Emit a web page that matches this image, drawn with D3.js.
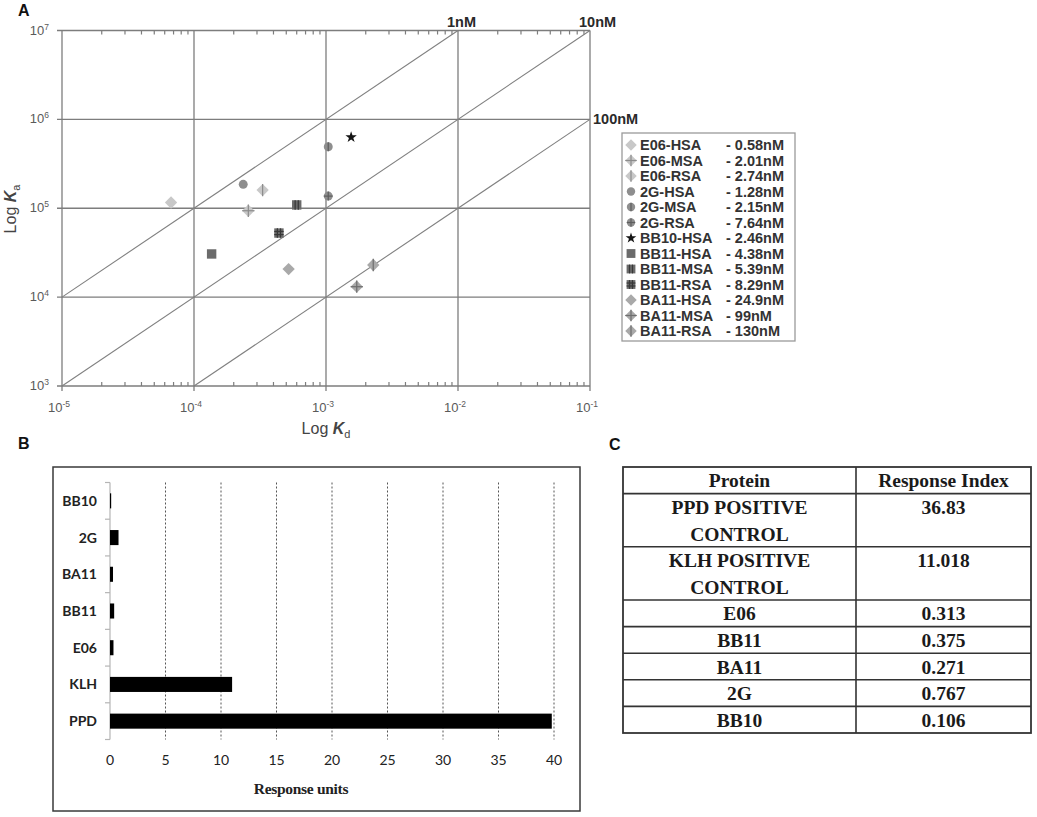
<!DOCTYPE html>
<html>
<head>
<meta charset="utf-8">
<script src="https://cdnjs.cloudflare.com/ajax/libs/d3/7.8.5/d3.min.js"></script>
<style>
  body { margin: 0; background: #fff; }
  svg { display: block; }
</style>
</head>
<body>
<svg id="fig" width="1037" height="817"></svg>
<script>
// ---- panel A: off-rate (kd) against on-rate (ka)
var seriesNames = ['E06-HSA', 'E06-MSA', 'E06-RSA', '2G-HSA', '2G-MSA', '2G-RSA', 'BB10-HSA',
                   'BB11-HSA', 'BB11-MSA', 'BB11-RSA', 'BA11-HSA', 'BA11-MSA', 'BA11-RSA'];
var kdValues = [6.7e-5, 2.58e-4, 3.31e-4, 2.36e-4, 1.04e-3, 1.04e-3, 1.55e-3,
                1.36e-4, 6.0e-4, 4.4e-4, 5.21e-4, 1.71e-3, 2.28e-3];
var kaValues = [1.16e5, 9.38e4, 1.6e5, 1.86e5, 4.92e5, 1.37e5, 6.3e5,
                3.06e4, 1.09e5, 5.26e4, 2.07e4, 1.31e4, 2.3e4];
var legendKD = ['0.58nM', '2.01nM', '2.74nM', '1.28nM', '2.15nM', '7.64nM', '2.46nM',
                '4.38nM', '5.39nM', '8.29nM', '24.9nM', '99nM', '130nM'];
var affinityLines = [1e-9, 1e-8, 1e-7];
var affinityLabels = ['1nM', '10nM', '100nM'];

// ---- panel B: response units
var barCategories = ['BB10', '2G', 'BA11', 'BB11', 'E06', 'KLH', 'PPD'];
var barValues = [0.106, 0.767, 0.271, 0.375, 0.313, 11.0, 39.8];
var barTicks = [0, 5, 10, 15, 20, 25, 30, 35, 40];

// ---- panel C: response index table
var tableHeader = ['Protein', 'Response Index'];
var tableProteins = ['PPD POSITIVE\nCONTROL', 'KLH POSITIVE\nCONTROL', 'E06', 'BB11', 'BA11', '2G', 'BB10'];
var tableIndex = ['36.83', '11.018', '0.313', '0.375', '0.271', '0.767', '0.106'];

var svg = d3.select('#fig');
var sans = '"Liberation Sans", Arial, sans-serif';
var serif = '"Liberation Serif", "Times New Roman", serif';
var calib = 'Lato, "Open Sans", sans-serif';

// panel letters
[['A', 18, 16], ['B', 18, 449], ['C', 609, 450]].forEach(function(p) {
    svg.append('text').attr('x', p[1]).attr('y', p[2]).text(p[0])
        .style('font-family', sans).style('font-weight', 'bold')
        .style('font-size', '16px').style('fill', '#111');
});

// =================== A ===================
var x = d3.scaleLog().domain([1e-5, 1e-1]).range([62, 590]);
var y = d3.scaleLog().domain([1e3, 1e7]).range([386, 30.5]);
var gridCol = '#7d7d7d';
var gA = svg.append('g');

var majorX = x.ticks().filter(function(d) { return Math.abs(Math.log10(d) % 1) < 1e-9; });
var majorY = y.ticks().filter(function(d) { return Math.abs(Math.log10(d) % 1) < 1e-9; });
var minorX = x.ticks().filter(function(d) { return majorX.indexOf(d) < 0; });

gA.selectAll('.gx').data(majorX).enter().append('line')
    .attr('x1', function(d) { return x(d); }).attr('x2', function(d) { return x(d); })
    .attr('y1', y.range()[0] + 5).attr('y2', y.range()[1])
    .attr('stroke', gridCol).attr('stroke-width', 1.3);
gA.selectAll('.gy').data(majorY).enter().append('line')
    .attr('x1', x.range()[0] - 5).attr('x2', x.range()[1])
    .attr('y1', function(d) { return y(d); }).attr('y2', function(d) { return y(d); })
    .attr('stroke', gridCol).attr('stroke-width', 1.3);

// minor ticks pointing inward on top and bottom
gA.selectAll('.mb').data(minorX).enter().append('line')
    .attr('x1', function(d) { return x(d); }).attr('x2', function(d) { return x(d); })
    .attr('y1', y.range()[0]).attr('y2', y.range()[0] - 4)
    .attr('stroke', gridCol).attr('stroke-width', 1.2);
gA.selectAll('.mt').data(minorX).enter().append('line')
    .attr('x1', function(d) { return x(d); }).attr('x2', function(d) { return x(d); })
    .attr('y1', y.range()[1]).attr('y2', y.range()[1] + 4)
    .attr('stroke', gridCol).attr('stroke-width', 1.2);

// affinity diagonals KD = kd / ka
var lineEnds = affinityLines.map(function(kd) {
    var x0 = Math.max(x.domain()[0], kd * y.domain()[0]);
    var x1 = Math.min(x.domain()[1], kd * y.domain()[1]);
    return [[x0, x0 / kd], [x1, x1 / kd]];
});
gA.selectAll('.diag').data(lineEnds).enter().append('line')
    .attr('x1', function(d) { return x(d[0][0]); }).attr('y1', function(d) { return y(d[0][1]); })
    .attr('x2', function(d) { return x(d[1][0]); }).attr('y2', function(d) { return y(d[1][1]); })
    .attr('stroke', '#808080').attr('stroke-width', 1.1);
gA.selectAll('.dlab').data(lineEnds).enter().append('text')
    .attr('x', function(d) { return d[1][1] >= y.domain()[1] ? x(d[1][0]) - 11 : x(d[1][0]) + 3; })
    .attr('y', function(d) { return d[1][1] >= y.domain()[1] ? y(d[1][1]) - 4 : y(d[1][1]) + 5; })
    .text(function(d, i) { return affinityLabels[i]; })
    .style('font-family', sans).style('font-weight', 'bold').style('font-size', '14.5px').style('fill', '#2a2a2a');

// tick labels as 10^n
function powLabel(sel, d) {
    sel.append('tspan').text('10');
    sel.append('tspan').text(String(Math.round(Math.log10(d))))
        .attr('dy', -5).style('font-size', '8.5px');
}
gA.selectAll('.tx').data(majorX).enter().append('text')
    .attr('x', function(d) { return x(d) - 3; }).attr('y', 412)
    .attr('text-anchor', 'middle')
    .style('font-family', sans).style('font-size', '13px').style('fill', '#5a5a5a')
    .each(function(d) { powLabel(d3.select(this), d); });
gA.selectAll('.ty').data(majorY).enter().append('text')
    .attr('x', 49).attr('y', function(d) { return y(d) + 4; })
    .attr('text-anchor', 'end')
    .style('font-family', sans).style('font-size', '13px').style('fill', '#5a5a5a')
    .each(function(d) { powLabel(d3.select(this), d); });

// axis titles
var xt = gA.append('text').attr('x', 326).attr('y', 434).attr('text-anchor', 'middle')
    .style('font-family', sans).style('font-size', '16px').style('fill', '#444');
xt.append('tspan').text('Log ');
xt.append('tspan').text('K').style('font-style', 'italic').style('font-weight', 'bold');
xt.append('tspan').text('d').attr('dy', 4).style('font-size', '11px');
var yt = gA.append('text').attr('transform', 'translate(16,209) rotate(-90)').attr('text-anchor', 'middle')
    .style('font-family', sans).style('font-size', '16px').style('fill', '#444');
yt.append('tspan').text('Log ');
yt.append('tspan').text('K').style('font-style', 'italic').style('font-weight', 'bold');
yt.append('tspan').text('a').attr('dy', 4).style('font-size', '11px');

// marker styles by antibody and species
var markerStyle = {
    'E06':  { shape: 'diamond', fill: '#c8c8c8', line: '#8c8c8c' },
    '2G':   { shape: 'circle',  fill: '#8e8e8e', line: '#5e5e5e' },
    'BB10': { shape: 'star',    fill: '#151515', line: '#151515' },
    'BB11': { shape: 'square',  fill: '#6b6b6b', line: '#383838' },
    'BA11': { shape: 'diamond', fill: '#a9a9a9', line: '#6e6e6e' }
};
var markerPattern = {
    'E06-MSA': 'cross', 'E06-RSA': 'vline', '2G-MSA': 'vline', '2G-RSA': 'cross',
    'BB11-MSA': 'stripes', 'BB11-RSA': 'grid', 'BA11-MSA': 'cross', 'BA11-RSA': 'vline'
};

function drawMarker(g, name, cx, cy, k) {
    var st = markerStyle[name.split('-')[0]];
    var pat = markerPattern[name] || 'none';
    var m = g.append('g').attr('transform', 'translate(' + cx + ',' + cy + ')');
    var h;
    if (st.shape === 'diamond') {
        h = 5.5 * k;
        m.append('path').attr('d', 'M0,' + (-h) + 'L' + h + ',0L0,' + h + 'L' + (-h) + ',0Z')
            .attr('fill', st.fill);
    } else if (st.shape === 'circle') {
        h = 4 * k;
        m.append('circle').attr('r', h).attr('fill', st.fill);
    } else if (st.shape === 'square') {
        h = 4.2 * k;
        m.append('rect').attr('x', -h).attr('y', -h).attr('width', 2 * h).attr('height', 2 * h)
            .attr('fill', st.fill);
    } else {
        h = 4 * k;
        m.append('path').attr('d', d3.symbol(d3.symbolStar, 32 * k * k)()).attr('fill', st.fill);
    }
    var ln = function(x1, y1, x2, y2) {
        m.append('line').attr('x1', x1).attr('y1', y1).attr('x2', x2).attr('y2', y2)
            .attr('stroke', st.line).attr('stroke-width', 1.2);
    };
    if (pat === 'cross') { ln(-h, 0, h, 0); ln(0, -h, 0, h); }
    if (pat === 'vline') { ln(0, -h, 0, h); }
    if (pat === 'stripes') { ln(-h / 3, -h, -h / 3, h); ln(h / 3, -h, h / 3, h); }
    if (pat === 'grid') {
        ln(-h / 3, -h, -h / 3, h); ln(h / 3, -h, h / 3, h);
        ln(-h, -h / 3, h, -h / 3); ln(-h, h / 3, h, h / 3);
    }
}

var gPts = gA.append('g');
seriesNames.forEach(function(n, i) {
    drawMarker(gPts, n, x(kdValues[i]), y(kaValues[i]), 1.12);
});

// legend
var ly = d3.scaleLinear().domain([0, seriesNames.length - 1]).range([145, 331]);
var gL = svg.append('g');
gL.append('rect').attr('x', 622).attr('y', 133).attr('width', 173).attr('height', 208)
    .attr('fill', '#fff').attr('stroke', '#9a9a9a').attr('stroke-width', 1.3);
seriesNames.forEach(function(n, i) {
    drawMarker(gL, n, 631, ly(i), 1.05);
    gL.append('text').attr('x', 640).attr('y', ly(i) + 5).text(n)
        .style('font-family', sans).style('font-weight', 'bold').style('font-size', '14.5px').style('fill', '#333');
    gL.append('text').attr('x', 726).attr('y', ly(i) + 5).text('- ' + legendKD[i])
        .style('font-family', sans).style('font-weight', 'bold').style('font-size', '14.5px').style('fill', '#333');
});

// =================== B ===================
var gB = svg.append('g');
gB.append('rect').attr('x', 53).attr('y', 467).attr('width', 527).attr('height', 344)
    .attr('fill', 'none').attr('stroke', '#3a3a3a').attr('stroke-width', 1.5);

var bx = d3.scaleLinear().domain([0, 40]).range([110, 554]);
var by = d3.scaleBand().domain(barCategories).range([482.5, 739.5]).paddingInner(0.59).paddingOuter(0.295);

gB.selectAll('.bg').data(barTicks.slice(1)).enter().append('line')
    .attr('x1', function(d) { return bx(d); }).attr('x2', function(d) { return bx(d); })
    .attr('y1', 482.5).attr('y2', 739.5)
    .attr('stroke', '#555').attr('stroke-width', 1).attr('stroke-dasharray', '2,2');

// category axis with separator ticks
var bandStep = by.step();
gB.append('line').attr('x1', 110).attr('x2', 110).attr('y1', 482.5).attr('y2', 739.5)
    .attr('stroke', '#b5b5b5').attr('stroke-width', 1.2);
gB.selectAll('.sep').data(d3.range(barCategories.length + 1)).enter().append('line')
    .attr('x1', 105).attr('x2', 110)
    .attr('y1', function(i) { return 482.5 + i * bandStep; })
    .attr('y2', function(i) { return 482.5 + i * bandStep; })
    .attr('stroke', '#b5b5b5').attr('stroke-width', 1.2);

gB.selectAll('.bar').data(barValues).enter().append('rect')
    .attr('x', bx(0))
    .attr('y', function(d, i) { return by(barCategories[i]); })
    .attr('width', function(d) { return bx(d) - bx(0); })
    .attr('height', by.bandwidth())
    .attr('fill', '#000');

gB.selectAll('.cl').data(barCategories).enter().append('text')
    .attr('x', 97).attr('y', function(d) { return by(d) + by.bandwidth() / 2 + 5; })
    .attr('text-anchor', 'end').text(function(d) { return d; })
    .style('font-family', calib).style('font-weight', 'bold').style('font-size', '14px').style('fill', '#222');
gB.selectAll('.vl').data(barTicks).enter().append('text')
    .attr('x', function(d) { return bx(d); }).attr('y', 765)
    .attr('text-anchor', 'middle').text(function(d) { return d; })
    .style('font-family', calib).style('font-size', '14px').style('fill', '#222');
gB.append('text').attr('x', 301).attr('y', 794).attr('text-anchor', 'middle').text('Response units')
    .style('font-family', serif).style('font-weight', 'bold').style('font-size', '15.5px').style('fill', '#222')
    .style('letter-spacing', '-0.3px');

// =================== C ===================
var gC = svg.append('g');
var tLeft = 623, tMid = 856, tRight = 1031;
var rowLines = tableProteins.map(function(p) { return p.split('\n').length; });
var rowStart = [1];
rowLines.forEach(function(n, i) { rowStart.push(rowStart[i] + n); });
var ty = d3.scaleLinear().domain([0, rowStart[rowStart.length - 1]]).range([467, 733]);

gC.append('rect').attr('x', tLeft).attr('y', ty(0)).attr('width', tRight - tLeft)
    .attr('height', ty.range()[1] - ty(0))
    .attr('fill', 'none').attr('stroke', '#333').attr('stroke-width', 1.8);
gC.selectAll('.hl').data(rowStart.slice(0, -1)).enter().append('line')
    .attr('x1', tLeft).attr('x2', tRight)
    .attr('y1', function(d) { return ty(d); }).attr('y2', function(d) { return ty(d); })
    .attr('stroke', '#333').attr('stroke-width', 1.6);
gC.append('line').attr('x1', tMid).attr('x2', tMid).attr('y1', ty(0)).attr('y2', ty.range()[1])
    .attr('stroke', '#333').attr('stroke-width', 1.6);

var c1 = (tLeft + tMid) / 2, c2 = (tMid + tRight) / 2;
var cellFont = function(sel) {
    sel.attr('text-anchor', 'middle').style('font-family', serif).style('font-weight', 'bold')
        .style('font-size', '19.5px').style('fill', '#1a1a1a');
};
gC.append('text').attr('x', c1).attr('y', ty(0.5) + 7).text(tableHeader[0]).call(cellFont);
gC.append('text').attr('x', c2).attr('y', ty(0.5) + 7).text(tableHeader[1]).call(cellFont);
tableProteins.forEach(function(p, i) {
    p.split('\n').forEach(function(line, j) {
        gC.append('text').attr('x', c1).attr('y', ty(rowStart[i] + j + 0.5) + 7).text(line).call(cellFont);
    });
    gC.append('text').attr('x', c2).attr('y', ty(rowStart[i] + 0.5) + 7).text(tableIndex[i]).call(cellFont);
});
</script>
</body>
</html>
